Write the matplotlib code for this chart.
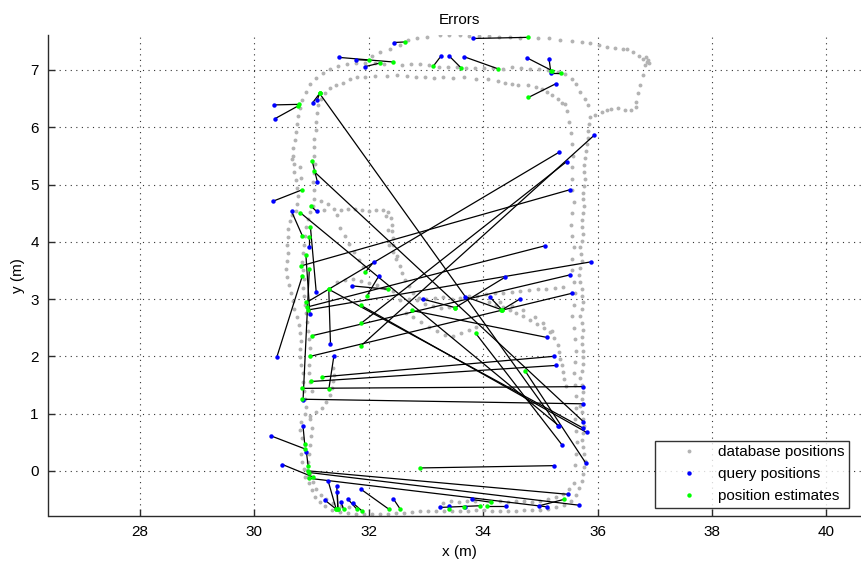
import matplotlib
matplotlib.use("Agg")
import matplotlib.pyplot as plt
import numpy as np

plt.rcParams['font.family'] = ['Liberation Sans', 'DejaVu Sans']

# database trajectory (gray)
left_outer = [(30.88,0.45),(30.84,0.58),(30.80,0.72),(30.82,0.86),(30.88,1.00),(30.90,1.12),(30.88,1.26),(30.86,1.40),
              (30.85,1.55),(30.85,1.70),(30.82,1.84),(30.80,1.98),(30.80,2.12),(30.81,2.26),(30.80,2.40),(30.78,2.54),
              (30.74,2.68),(30.70,2.82),(30.67,2.96),(30.64,3.10),(30.60,3.24),(30.57,3.38),(30.56,3.52),(30.57,3.66),
              (30.58,3.80),(30.57,3.94),(30.58,4.08),(30.59,4.22),(30.62,4.36),(30.66,4.46),(30.72,4.53),(30.74,4.66),
              (30.76,4.80),(30.74,4.94),(30.72,5.08),(30.70,5.22),(30.70,5.36),(30.68,5.50),(30.68,5.64),(30.71,5.78),
              (30.73,5.92),(30.75,6.06),(30.77,6.20),(30.80,6.34),(30.84,6.48),(30.90,6.62),(30.98,6.75),(31.08,6.86),
              (31.20,6.95),(31.33,7.02),(31.47,7.07),(31.62,7.10),(30.66,5.45),(30.80,5.30),(30.82,5.12)]
left_inner = [(30.95,0.30),(30.97,0.45),(30.99,0.60),(31.00,0.75),(30.98,0.90),(31.00,1.40),(30.98,1.55),(30.96,1.70),
              (30.95,1.85),(30.97,2.00),(30.98,2.15),(30.95,2.30),(30.93,2.45),(30.92,2.60),(30.90,2.75),(30.88,2.90),
              (30.86,3.05),(30.85,3.20),(30.86,3.35),(30.85,3.50),(30.84,3.65),(30.85,3.80),(30.86,3.95),(30.88,4.10),
              (30.90,4.25),(30.93,4.40),(30.97,4.52),(31.02,4.62),(31.05,4.75),(31.04,4.90),(31.03,5.05),(31.05,5.20),
              (31.06,5.35),(31.05,5.50),(31.04,5.65),(31.05,5.80),(31.07,5.95),(31.08,6.10),(31.09,6.25),(31.12,6.38),
              (31.17,6.50),(31.24,6.60),(31.32,6.68),(31.42,6.74),(31.55,6.78)]
mid_loop = [(31.17,4.72),(31.28,4.66),(31.40,4.58),(31.52,4.56),(31.64,4.57),(31.76,4.58),(31.88,4.56),(32.00,4.54),
            (32.12,4.55),(32.24,4.56),(32.34,4.52),(32.39,4.42),(32.40,4.30),(32.41,4.18),(32.42,4.06),(32.43,3.94),
            (32.43,3.82),(32.48,3.70),(32.54,3.58),(32.58,3.46),(32.63,3.34),(32.70,3.22),(32.78,3.11),(32.88,3.01),
            (32.99,2.92),(33.12,2.87),(33.26,2.84),(33.40,2.86),(31.22,4.55),(31.45,4.47),(32.30,4.45),(32.33,4.20),
            (32.36,3.95),(32.50,3.75)]
mid_flat = [(32.55,2.98),(32.70,3.00),(32.85,2.99),(33.00,3.00),(33.15,3.02),(33.30,3.03),(33.45,3.00),(33.60,3.02),
            (33.75,3.05),(33.90,3.06),(34.05,3.08),(34.20,3.10),(34.35,3.10),(34.50,3.12),(34.65,3.14),(34.80,3.16),
            (34.95,3.17),(35.10,3.18),(35.25,3.20),(35.40,3.21)]
mid_diag = [(34.10,2.95),(34.22,2.90),(34.34,2.86),(34.46,2.80),(34.58,2.76),(34.70,2.70),(34.82,2.64),(34.94,2.57),
            (35.06,2.50),(35.16,2.42),(35.24,2.32),(35.30,2.20),(35.33,2.08),(35.35,1.96),(35.38,1.84),(35.40,1.72),
            (35.42,1.60),(35.45,1.48),(34.30,2.95),(34.50,2.88),(34.70,2.80),(34.90,2.68),(35.05,2.58),(35.20,2.45)]
mid_low = [(32.65,2.76),(32.78,2.68),(32.92,2.60),(33.06,2.52),(33.20,2.44),(33.34,2.38),(33.48,2.36),(33.62,2.40),
           (33.76,2.46),(33.88,2.52),(31.45,3.30),(31.58,3.33),(31.72,3.35),(31.86,3.32),(32.00,3.28),(32.14,3.24),
           (32.28,3.20),(32.42,3.14),(31.50,4.24),(31.58,4.10),(31.66,3.96),(31.74,3.82),(31.82,3.68),(31.90,3.56)]
low_left = [(31.38,1.80),(31.40,1.68),(31.38,1.56),(31.36,1.44),(31.32,1.32),(31.26,1.20),(31.18,1.10),(31.08,1.02),
            (30.98,0.96),(30.82,0.30),(30.84,0.16),(30.86,0.03),(30.88,-0.10)]
bottom = [(30.93,0.15),(30.92,0.02),(30.93,-0.10),(30.96,-0.22),(31.00,-0.34),(31.06,-0.45),(31.14,-0.54),(31.24,-0.62),
          (31.36,-0.68),(31.50,-0.72),(31.64,-0.74),(31.78,-0.75),(31.92,-0.76),(32.06,-0.76),(32.20,-0.75),(32.34,-0.75),
          (32.48,-0.74),(32.62,-0.73),(32.76,-0.72),(32.90,-0.71),(33.04,-0.70),(33.18,-0.70),(33.32,-0.70),(33.46,-0.71),
          (33.60,-0.71),(33.74,-0.70),(33.88,-0.69),(34.02,-0.69),(34.16,-0.70),(34.30,-0.71),(34.44,-0.71),(34.58,-0.70),
          (34.72,-0.69),(34.86,-0.69),(35.00,-0.68),(35.14,-0.66),(35.28,-0.64),(35.42,-0.60),(35.54,-0.52),(35.62,-0.42),
          (35.68,-0.30),(35.72,-0.18),(35.74,-0.06),(31.02,-0.20),(31.08,-0.32),(31.16,-0.42),(31.26,-0.50),(31.38,-0.57),
          (31.52,-0.61),(31.66,-0.63),(33.30,-0.56),(33.44,-0.53),(33.58,-0.55),(33.72,-0.53),(33.86,-0.52),(34.30,-0.52),
          (34.44,-0.54),(34.58,-0.52),(34.72,-0.53),(34.86,-0.54),(35.00,-0.52),(35.14,-0.50),(35.28,-0.46),(35.40,-0.40),
          (35.50,-0.32),(35.58,-0.22)]
right_outer = [(35.76,0.06),(35.78,0.18),(35.76,0.30),(35.74,0.42),(35.72,0.54),(35.74,0.66),(35.76,0.78),(35.74,0.90),
               (35.72,1.02),(35.70,1.14),(35.72,1.26),(35.74,1.38),(35.72,1.50),(35.70,1.62),(35.72,1.74),(35.74,1.86),
               (35.75,1.98),(35.74,2.10),(35.72,2.22),(35.73,2.34),(35.74,2.46),(35.72,2.58),(35.70,2.70),(35.72,2.82),
               (35.74,2.94),(35.73,3.06),(35.72,3.18),(35.70,3.30),(35.68,3.42),(35.70,3.54),(35.72,3.66),(35.71,3.78),
               (35.70,3.90),(35.72,4.02),(35.74,4.14),(35.73,4.26),(35.72,4.38),(35.74,4.50),(35.76,4.62),(35.75,4.74),
               (35.74,4.86),(35.76,4.98),(35.78,5.10),(35.77,5.22),(35.76,5.34),(35.78,5.46),(35.80,5.58),(35.82,5.70),
               (35.83,5.82),(35.84,5.94),(35.85,6.06),(35.86,6.18)]
right_inner = [(35.60,0.10),(35.62,0.30),(35.64,0.50),(35.62,0.70),(35.60,0.90),(35.62,1.10),(35.63,1.30),(35.60,1.50),
               (35.58,1.70),(35.60,1.90),(35.62,2.10),(35.60,2.30),(35.58,2.50),(35.56,2.70),(35.58,2.90),(35.60,3.10),
               (35.58,3.30),(35.55,3.50),(35.56,3.70),(35.58,3.90),(35.56,4.10),(35.54,4.30),(35.56,4.50),(35.58,4.70),
               (35.56,4.90),(35.55,5.10),(35.56,5.30),(35.57,5.50),(35.55,5.70),(35.53,5.90),(35.50,6.10),(35.47,6.28),
               (35.43,6.40),(35.55,6.85),(35.62,6.75),(35.70,6.62),(35.78,6.50),(35.84,6.38)]
top_outer = [(32.05,7.25),(32.19,7.31),(32.37,7.37),(32.54,7.43),(32.69,7.52),(32.84,7.56),(33.01,7.58),(33.24,7.61),
             (33.41,7.61),(33.59,7.61),(33.75,7.60),(33.92,7.60),(34.10,7.59),(34.28,7.58),(34.46,7.57),(34.64,7.56),
             (34.95,7.56),(35.15,7.55),(35.35,7.53),(35.55,7.51),(35.72,7.49),(35.87,7.48),(36.02,7.44),(36.16,7.41),
             (36.30,7.39),(36.44,7.37),(36.51,7.36),(36.62,7.31),(36.72,7.25),(36.80,7.20),(36.86,7.14),(36.83,7.08),
             (36.80,6.91),(36.74,6.73),(36.70,6.59),(36.68,6.44),(36.68,6.35),(36.59,6.30),(36.48,6.30),(36.35,6.34),
             (36.24,6.31),(36.16,6.30),(36.07,6.26),(35.95,6.22),(36.88,7.18),(36.90,7.12),(36.84,7.22)]
top_mid = [(31.78,7.12),(31.94,7.13),(32.10,7.12),(32.26,7.10),(32.58,7.08),(32.74,7.10),(32.90,7.11),(33.06,7.08),
           (33.22,7.06),(33.38,7.05),(33.54,7.06),(33.70,7.04),(33.86,7.03),(34.02,7.04),(34.18,7.03),(34.34,7.02),
           (34.50,7.05),(34.66,7.04),(34.82,7.02),(34.98,7.02),(35.14,7.00),(35.30,6.97),(35.43,6.93)]
top_low = [(31.67,6.85),(31.80,6.87),(31.93,6.88),(32.11,6.89),(32.31,6.89),(32.49,6.91),(32.66,6.90),(32.82,6.88),
           (32.98,6.87),(33.14,6.86),(33.30,6.87),(33.48,6.86),(33.67,6.87),(33.88,6.85),(34.09,6.85),(34.25,6.81),
           (34.38,6.78),(34.50,6.75),(34.61,6.73),(34.79,6.73),(34.93,6.70),(35.02,6.66),(35.11,6.62),(35.21,6.56),
           (35.31,6.50),(35.37,6.42)]

db_pts = (left_outer + left_inner + mid_loop + mid_flat + mid_diag + mid_low + low_left + bottom
          + right_outer + right_inner + top_outer + top_mid + top_low)
db_x = [p[0] for p in db_pts]
db_y = [p[1] for p in db_pts]

# query positions (blue) and their position estimates (green)
query_x = [32.44,31.48,31.77,31.94,33.26,33.40,33.67,33.82,34.77,35.15,35.18,35.27,
           30.35,30.36,31.02,31.10,31.10,30.33,31.09,30.65,31.08,30.95,30.97,30.85,30.39,
           35.31,35.75,35.33,35.74,35.81,35.38,35.79,35.23,
           31.33,31.39,32.09,31.70,32.18,32.94,34.38,33.69,34.12,34.64,35.11,
           35.52,35.32,35.08,35.89,35.51,35.55,35.94,35.46,35.24,35.27,35.74,35.75,
           30.85,30.29,30.91,30.49,35.48,35.67,35.12,34.98,31.29,31.44,31.45,31.23,31.51,31.63,31.72,31.86,32.43,
           33.24,33.41,33.69,33.80,34.40]
query_y = [7.48,7.22,7.18,7.06,7.24,7.25,7.23,7.55,7.21,7.20,6.95,6.76,
           6.39,6.15,6.43,6.48,5.05,4.71,4.53,4.53,3.13,3.91,2.74,1.23,1.98,
           0.78,0.86,0.78,0.75,0.67,0.45,0.14,0.09,
           2.21,2.01,3.65,3.23,3.41,3.00,3.38,3.04,3.03,3.00,2.33,
           4.91,5.56,3.93,3.65,3.42,3.10,5.86,5.40,2.00,1.84,1.47,1.17,
           0.78,0.61,0.32,0.11,-0.41,-0.60,-0.63,-0.61,-0.18,-0.27,-0.37,-0.51,-0.54,-0.49,-0.56,-0.32,-0.49,
           -0.64,-0.61,-0.63,-0.50,-0.61]
est_x = [32.64,32.42,32.00,32.19,33.13,33.61,34.26,34.78,35.20,35.18,35.36,34.79,
         30.78,30.76,31.14,31.14,31.01,30.84,30.99,30.84,30.98,30.95,30.90,30.96,30.84,
         31.14,31.04,30.80,31.30,31.86,33.87,34.73,32.89,
         31.30,31.30,31.94,32.34,31.97,33.51,33.51,34.33,34.33,34.31,32.75,
         30.82,30.91,30.92,30.94,31.01,30.98,31.86,31.87,31.19,30.99,30.84,30.84,
         30.88,30.89,30.94,31.03,30.93,30.96,30.95,35.41,31.43,31.46,31.46,31.43,31.56,31.79,31.88,32.35,32.55,
         33.95,33.41,33.66,34.14,34.06]
est_y = [7.49,7.14,7.17,7.12,7.07,7.04,7.02,7.57,6.99,6.98,6.95,6.52,
         6.40,6.37,6.59,6.59,5.41,4.91,4.62,4.10,4.25,4.09,3.77,3.52,3.41,
         6.59,5.23,4.51,3.17,2.89,2.40,1.75,0.05,
         3.17,1.42,3.47,3.17,3.06,2.85,2.85,2.81,2.81,2.80,2.80,
         3.58,2.94,2.86,2.81,2.36,2.00,2.18,2.58,1.64,1.56,1.44,1.25,
         0.46,0.38,0.08,-0.11,0.00,-0.03,-0.13,-0.50,-0.67,-0.67,-0.67,-0.67,-0.67,-0.67,-0.70,-0.67,-0.67,
         -0.61,-0.67,-0.63,-0.55,-0.61]

W, H = 862, 562
fig = plt.figure(figsize=(W / 100, H / 100), dpi=100)
# axes runs a little past the right edge of the picture, like the cropped original
ax = fig.add_axes([48.5 / W, 46.3 / H, 822.5 / W, 480.7 / H])

ax.plot(db_x, db_y, 'o', color='#b3b3b3', markersize=2.8, markeredgewidth=0,
        label='database positions', zorder=2)
for qx, qy, ex, ey in zip(query_x, query_y, est_x, est_y):
    ax.plot([qx, ex], [qy, ey], color='black', lw=0.9, zorder=3)
ax.plot(query_x, query_y, 'o', color='#0000ff', markersize=3.2, markeredgewidth=0,
        label='query positions', zorder=4)
ax.plot(est_x, est_y, 'o', color='#00ff00', markersize=3.2, markeredgewidth=0,
        label='position estimates', zorder=5)

ax.set_xlim(26.40, 40.78)
ax.set_ylim(-0.784, 7.611)
ax.set_xticks([28, 30, 32, 34, 36, 38, 40])
ax.set_yticks(range(0, 8))
ax.grid(True, color='#333333', linestyle=(0, (1, 4)), linewidth=0.8)
ax.set_axisbelow(True)

for side in ['top', 'right']:
    ax.spines[side].set_visible(False)
for side in ['left', 'bottom']:
    ax.spines[side].set_color('#2b2b2b')
    ax.spines[side].set_linewidth(1.0)
ax.tick_params(direction='in', length=5, width=1.0, color='#2b2b2b', labelsize=11, pad=7)

ax.set_title('Errors', fontsize=11, pad=8)
ax.set_xlabel('x (m)', fontsize=11)
ax.set_ylabel('y (m)', fontsize=11)

leg = ax.legend(loc='lower left', bbox_to_anchor=(655 / W, (H - 508) / H),
                bbox_transform=fig.transFigure, borderaxespad=0, fontsize=11,
                handlelength=3.9, handletextpad=-0.1, borderpad=0.3, labelspacing=0.53,
                frameon=True, fancybox=False, markerscale=1.0)
leg.get_frame().set_edgecolor('black')
leg.get_frame().set_linewidth(1.0)

fig.savefig('out.png', dpi=100)
